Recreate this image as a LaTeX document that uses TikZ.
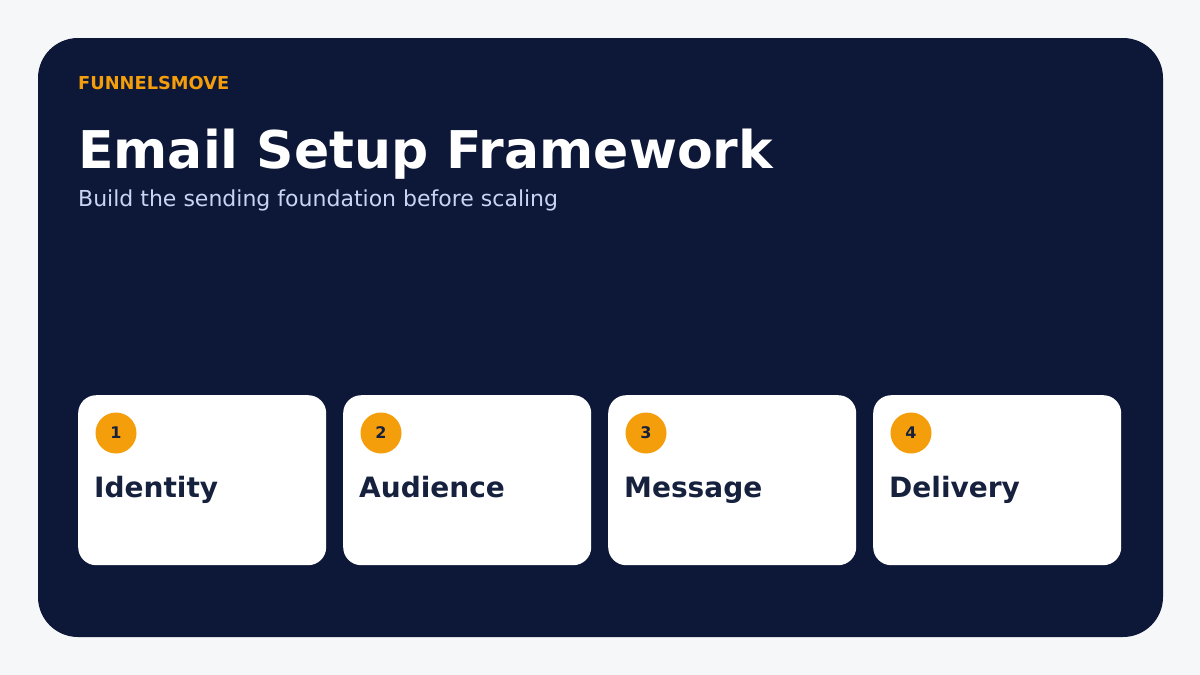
\documentclass[tikz,border=0pt]{standalone}
\usepackage{fontspec}
\setmainfont{DejaVu Sans}
\usetikzlibrary{positioning}
\definecolor{pageBg}{HTML}{F6F7F9}
\definecolor{panelBg}{HTML}{0D1838}
\definecolor{accent}{HTML}{F59E0B}
\definecolor{cardText}{HTML}{16213E}
\definecolor{subText}{HTML}{C9D4F5}
\tikzset{
  card/.style={fill=white, rounded corners=18pt, minimum width=248pt, minimum height=170pt, anchor=north west, inner sep=0pt},
  badge/.style={circle, fill=accent, minimum size=41pt, inner sep=0pt, font=\fontsize{16}{16}\selectfont\bfseries, text=cardText},
  stepLabel/.style={anchor=base west, inner sep=0pt, font=\fontsize{28}{28}\selectfont\bfseries, text=cardText}
}
\begin{document}
\begin{tikzpicture}[x=1pt, y=-1pt]
\fill[pageBg] (0,0) rectangle (1200,675);
\useasboundingbox (0,0) rectangle (1200,675);
\fill[panelBg, rounded corners=40pt] (38,38) rectangle (1163,637);
\node[anchor=base west, inner sep=0pt, text=accent, font=\fontsize{17.8}{18}\selectfont\bfseries] (brand) at (78,89) {FUNNELSMOVE};
\node[anchor=base west, inner sep=0pt, text=white, font=\fontsize{52}{52}\selectfont\bfseries] (title) at (78,168) {Email Setup Framework};
\node[anchor=base west, inner sep=0pt, text=subText, font=\fontsize{22}{22}\selectfont] (subtitle) at (78,206) {Build the sending foundation before scaling};
% steps
\foreach \i/\name in {1/Identity, 2/Audience, 3/Message, 4/Delivery} {
  \pgfmathsetmacro{\xx}{78+(\i-1)*265}
  \node[card] (card\i) at (\xx,395) {};
  \node[badge] (badge\i) at (\xx+38,433) {\i};
  \node[stepLabel] (label\i) at (\xx+16,497) {\name};
}
\end{tikzpicture}
\end{document}
